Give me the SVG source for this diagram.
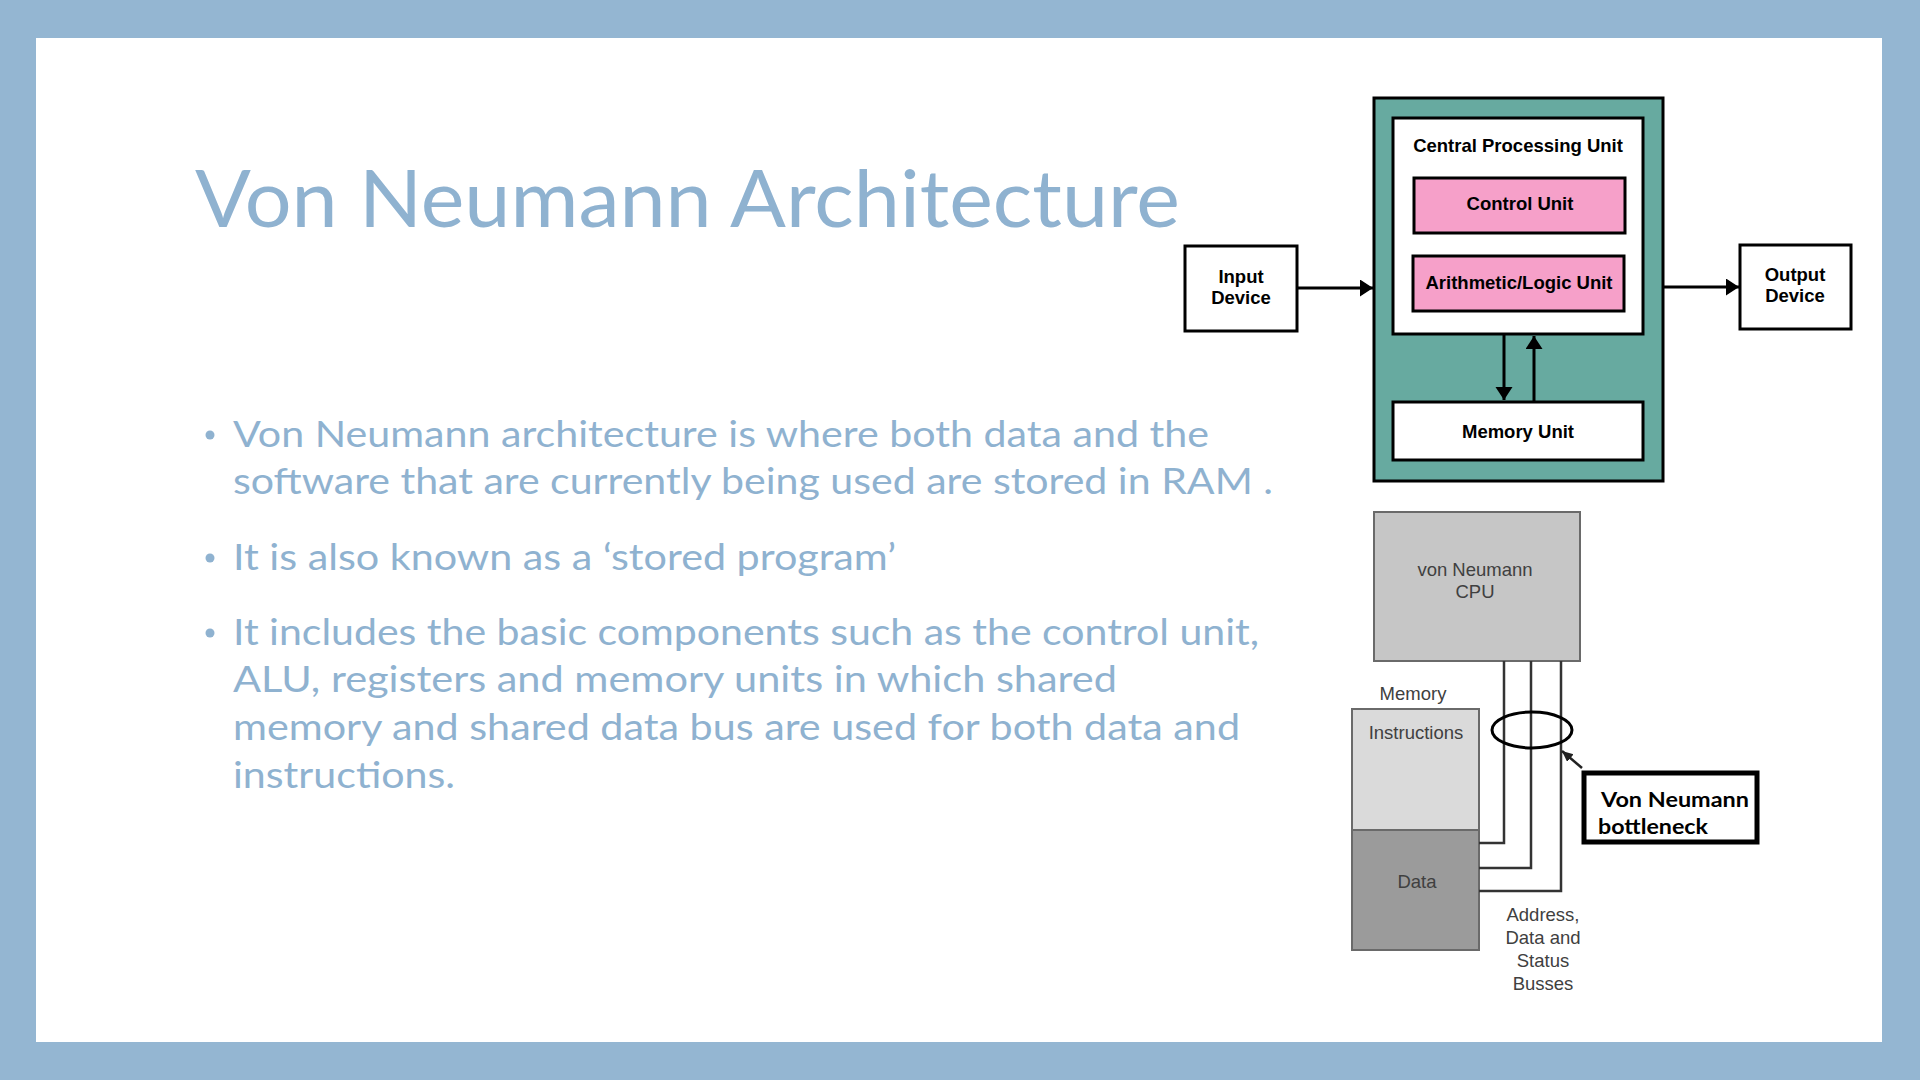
<svg xmlns="http://www.w3.org/2000/svg" width="1920" height="1080" viewBox="0 0 1920 1080">
<style>
.slide{font-family:Lato,"Open Sans","Liberation Sans",sans-serif;fill:#8fb2d0}
.lbl{font-family:"Liberation Sans",Arial,sans-serif;font-weight:bold;font-size:18.5px;fill:#000;text-anchor:middle}
.gl{font-family:"Liberation Sans",Arial,sans-serif;font-size:18.5px;fill:#404040;text-anchor:middle}
.box{fill:#fff;stroke:#000;stroke-width:3}
.pink{fill:#f6a0c9;stroke:#000;stroke-width:3}
.conn{stroke:#000;stroke-width:3;fill:none}
.bus{stroke:#333;stroke-width:2.5;fill:none}
.gbox{stroke:#6a6a6a;stroke-width:2}
</style>
<defs>
<marker id="ah" markerUnits="userSpaceOnUse" markerWidth="14" markerHeight="18" refX="13" refY="8.5" orient="auto">
<path d="M0,0 L13,8.5 L0,17 z" fill="#000"/>
</marker>
<marker id="ahg" markerUnits="userSpaceOnUse" markerWidth="12" markerHeight="12" refX="11" refY="5" orient="auto">
<path d="M0,0 L11,5 L0,10 z" fill="#222"/>
</marker>
</defs>
<rect x="0" y="0" width="1920" height="1080" fill="#94b6d2"/>
<rect x="36" y="38" width="1846" height="1004" fill="#fff"/>

<g id="title">
<text class="slide" x="195" y="227" font-size="80" textLength="985" lengthAdjust="spacingAndGlyphs">Von Neumann Architecture</text>
</g>
<g id="bullets" class="slide" font-size="36">
<circle cx="210" cy="435" r="4.5"/>
<circle cx="210" cy="558" r="4.5"/>
<circle cx="210" cy="633" r="4.5"/>
<text x="233" y="447" textLength="976" lengthAdjust="spacingAndGlyphs">Von Neumann architecture is where both data and the</text>
<text x="233" y="494" textLength="1040" lengthAdjust="spacingAndGlyphs">software that are currently being used are stored in RAM .</text>
<text x="233" y="570" textLength="663" lengthAdjust="spacingAndGlyphs">It is also known as a ‘stored program’</text>
<text x="233" y="645" textLength="1026" lengthAdjust="spacingAndGlyphs">It includes the basic components such as the control unit,</text>
<text x="233" y="692" textLength="884" lengthAdjust="spacingAndGlyphs">ALU, registers and memory units in which shared</text>
<text x="233" y="740" textLength="1007" lengthAdjust="spacingAndGlyphs">memory and shared data bus are used for both data and</text>
<text x="233" y="788" textLength="222" lengthAdjust="spacingAndGlyphs">instructions.</text>
</g>

<g id="computer-system">
<rect x="1374" y="98" width="289" height="383" fill="#67aaa0" stroke="#000" stroke-width="3"/>
</g>
<g id="cpu">
<rect class="box" x="1393" y="118" width="250" height="216"/>
<text class="lbl" x="1518" y="152">Central Processing Unit</text>
</g>
<g id="control-unit">
<rect class="pink" x="1414" y="178" width="211" height="55"/>
<text class="lbl" x="1520" y="210">Control Unit</text>
</g>
<g id="alu">
<rect class="pink" x="1413" y="256" width="211" height="55"/>
<text class="lbl" x="1519" y="289">Arithmetic/Logic Unit</text>
</g>
<g id="memory-unit">
<rect class="box" x="1393" y="402" width="250" height="58"/>
<text class="lbl" x="1518" y="438">Memory Unit</text>
</g>
<g id="input-device">
<rect class="box" x="1185" y="246" width="112" height="85"/>
<text class="lbl" x="1241" y="283">Input</text>
<text class="lbl" x="1241" y="304">Device</text>
</g>
<g id="output-device">
<rect class="box" x="1740" y="245" width="111" height="84"/>
<text class="lbl" x="1795" y="281">Output</text>
<text class="lbl" x="1795" y="302">Device</text>
</g>

<g id="vn-cpu">
<rect class="gbox" x="1374" y="512" width="206" height="149" fill="#c6c6c6"/>
<text class="gl" x="1475" y="576">von Neumann</text>
<text class="gl" x="1475" y="598">CPU</text>
</g>
<g id="memory">
<text class="gl" x="1413" y="700">Memory</text>
<rect class="gbox" x="1352" y="709" width="127" height="121" fill="#dadada"/>
<text class="gl" x="1416" y="739">Instructions</text>
<rect class="gbox" x="1352" y="830" width="127" height="120" fill="#9b9b9b"/>
<text class="gl" x="1417" y="888">Data</text>
</g>
<g id="bottleneck-label">
<rect x="1584" y="773" width="173" height="69" fill="#fff" stroke="#000" stroke-width="5"/>
<text x="1601" y="807" font-family="Lato,'Open Sans',sans-serif" font-weight="bold" font-size="21" fill="#000" textLength="148" lengthAdjust="spacingAndGlyphs">Von Neumann</text>
<text x="1598" y="834" font-family="Lato,'Open Sans',sans-serif" font-weight="bold" font-size="21" fill="#000" textLength="110" lengthAdjust="spacingAndGlyphs">bottleneck</text>
</g>
<g id="bus-label">
<text class="gl" x="1543" y="921">Address,</text>
<text class="gl" x="1543" y="944">Data and</text>
<text class="gl" x="1543" y="967">Status</text>
<text class="gl" x="1543" y="990">Busses</text>
</g>

<g id="connectors">
<line class="conn" x1="1297" y1="288" x2="1373" y2="288" marker-end="url(#ah)"/>
<line class="conn" x1="1663" y1="287" x2="1739" y2="287" marker-end="url(#ah)"/>
<line class="conn" x1="1504" y1="334" x2="1504" y2="400" marker-end="url(#ah)"/>
<line class="conn" x1="1534" y1="402" x2="1534" y2="336" marker-end="url(#ah)"/>
<polyline class="bus" points="1504,661 1504,843 1479,843"/>
<polyline class="bus" points="1531,661 1531,868 1479,868"/>
<polyline class="bus" points="1561,661 1561,891 1479,891"/>
<ellipse cx="1532" cy="730" rx="40" ry="18" fill="none" stroke="#000" stroke-width="3"/>
<line x1="1582" y1="768" x2="1562" y2="751" stroke="#222" stroke-width="2.5" marker-end="url(#ahg)"/>
</g>
</svg>
